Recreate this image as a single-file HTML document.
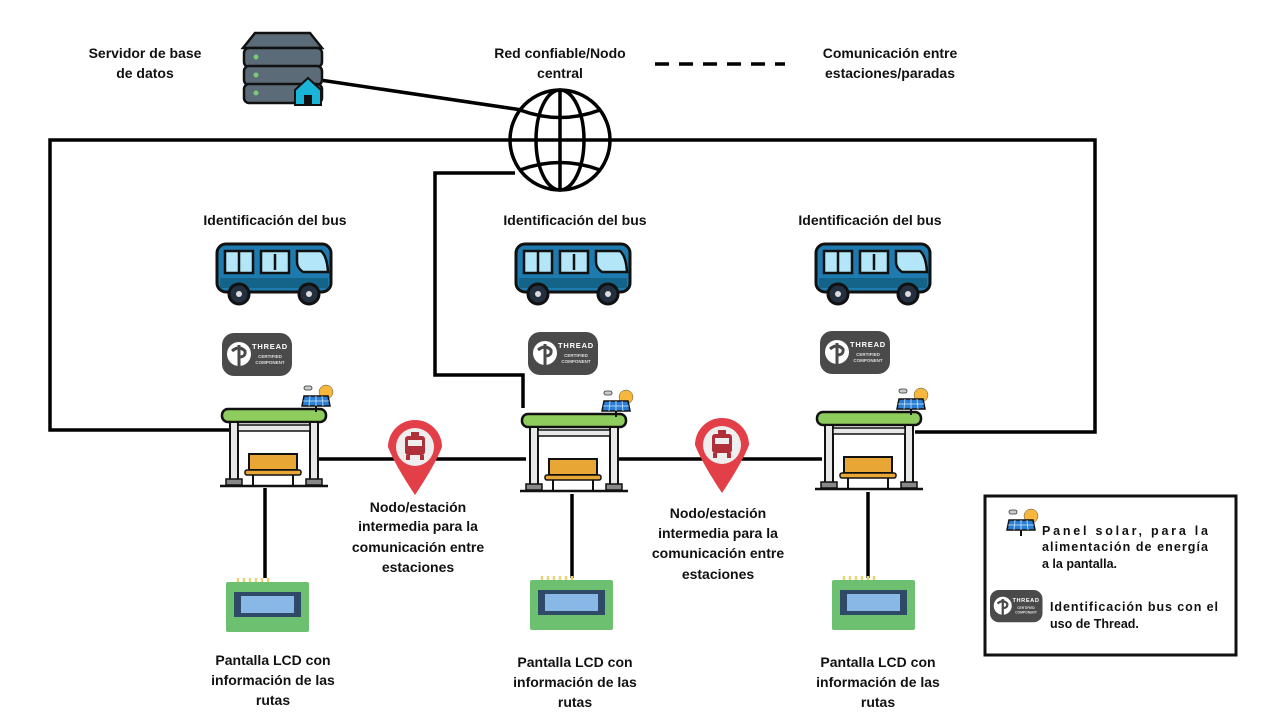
<!DOCTYPE html>
<html><head><meta charset="utf-8"><style>
body{margin:0;background:#fff;}
svg{display:block;font-family:"Liberation Sans",sans-serif;font-weight:bold;}
text{font-size:14px;fill:#111;}
</style></head><body>
<svg width="1267" height="723" viewBox="0 0 1267 723">
<defs>
<g id="bus">
  <rect x="0" y="0" width="114" height="48" rx="9" fill="#1d7bb0" stroke="#111" stroke-width="3"/>
  <rect x="3" y="34" width="108" height="10" fill="#146389"/>
  <rect x="8" y="7" width="28" height="22" fill="#b3e6f8" stroke="#111" stroke-width="2.5"/>
  <line x1="22" y1="7" x2="22" y2="29" stroke="#111" stroke-width="2.5"/>
  <rect x="44" y="7" width="28" height="22" fill="#b3e6f8" stroke="#111" stroke-width="2.5"/>
  <line x1="58" y1="10" x2="58" y2="26" stroke="#111" stroke-width="2.5"/>
  <path d="M80 7 H104 Q110 12 111 28 H86 Q80 24 80 18Z" fill="#b3e6f8" stroke="#111" stroke-width="2.5"/>
  <circle cx="22" cy="50" r="10" fill="#243040" stroke="#111" stroke-width="3"/><circle cx="22" cy="50" r="3" fill="#ddd"/>
  <circle cx="92" cy="50" r="10" fill="#243040" stroke="#111" stroke-width="3"/><circle cx="92" cy="50" r="3" fill="#ddd"/>
</g>
<g id="thread">
  <rect x="0" y="0" width="70" height="43" rx="12" fill="#4a4a4a"/>
  <circle cx="17" cy="21" r="12" fill="#fff"/>
  <path d="M17 12 V34 M10 18 Q17 12 23 18 Q24 24 17 24" stroke="#4a4a4a" stroke-width="3" fill="none"/>
  <text x="48" y="16" style="font-size:7.5px;fill:#fff;letter-spacing:0.8px" text-anchor="middle">THREAD</text>
  <text x="48" y="25" style="font-size:4.5px;fill:#ddd" text-anchor="middle">CERTIFIED</text>
  <text x="48" y="31" style="font-size:4.5px;fill:#ddd" text-anchor="middle">COMPONENT</text>
</g>
<g id="solar">
  <circle cx="26" cy="6" r="7" fill="#f6b73c" stroke="#555" stroke-width="0.5"/>
  <rect x="4" y="0" width="8" height="4" rx="2" fill="#ccc" stroke="#333" stroke-width="0.8"/>
  <path d="M4 10 H28 L30 20 H2Z" fill="#2a7fd4" stroke="#111" stroke-width="1.5"/>
  <path d="M10 10 L9 20 M16 10 V20 M22 10 L23 20 M3 15 H29" stroke="#cfe6ff" stroke-width="0.8"/>
  <line x1="16" y1="20" x2="16" y2="26" stroke="#111" stroke-width="2"/>
</g>
<g id="stop">
  <rect x="2" y="8" width="104" height="13" rx="6" fill="#8fcc5e" stroke="#111" stroke-width="2.5"/>
  <rect x="10" y="21" width="8" height="58" fill="#e8e8e8" stroke="#111" stroke-width="2"/>
  <rect x="90" y="21" width="8" height="58" fill="#e8e8e8" stroke="#111" stroke-width="2"/>
  <rect x="18" y="24" width="72" height="6" fill="#e8e8e8" stroke="#111" stroke-width="1.5"/>
  <rect x="29" y="53" width="48" height="16" fill="#e8a634" stroke="#111" stroke-width="2"/>
  <rect x="25" y="69" width="56" height="5" rx="2" fill="#e8a634" stroke="#111" stroke-width="1.5"/>
  <line x1="33" y1="74" x2="33" y2="84" stroke="#111" stroke-width="2"/><line x1="73" y1="74" x2="73" y2="84" stroke="#111" stroke-width="2"/>
  <rect x="6" y="78" width="16" height="6" fill="#888" stroke="#111" stroke-width="1.5"/>
  <rect x="86" y="78" width="16" height="6" fill="#888" stroke="#111" stroke-width="1.5"/>
  <line x1="0" y1="85" x2="108" y2="85" stroke="#111" stroke-width="2.5"/>
  <use href="#solar" x="80" y="-15"/>
</g>
<g id="pin">
  <path d="M-27 17 A27 27 0 1 1 27 17 Q20 35 0 65 Q-20 35 -27 17Z" transform="translate(0,-17)" fill="#e23f48"/>
  <circle cx="0" cy="0" r="19" fill="#eee"/>
  <rect x="-10" y="-11" width="20" height="19" rx="3" fill="#b0303a"/>
  <rect x="-7" y="-7" width="14" height="6" fill="#eee"/>
  <rect x="-4" y="-15" width="8" height="4" fill="#b0303a"/>
  <rect x="-9" y="8" width="4" height="5" fill="#b0303a"/><rect x="5" y="8" width="4" height="5" fill="#b0303a"/>
</g>
<g id="lcd">
  <rect x="0" y="4" width="83" height="50" rx="2" fill="#6cc070"/>
  <path d="M12 4 V0 M18 4 V0 M24 4 V0 M30 4 V0 M36 4 V0 M42 4 V0" stroke="#e6d37a" stroke-width="2.5"/>
  <rect x="8" y="14" width="67" height="25" fill="#2f4a66"/>
  <rect x="15" y="18" width="53" height="17" fill="#8ab8e6"/>
</g>
</defs>

<g stroke="#000" stroke-width="3.5" fill="none">
  <polyline points="230,430 50,430 50,140 1095,140 1095,432 915,432"/>
  <polyline points="515,173 435,173 435,375 523,375 523,408"/>
  <line x1="320" y1="80" x2="522" y2="110"/>
  <line x1="318" y1="459" x2="526" y2="459"/>
  <line x1="616" y1="459" x2="822" y2="459"/>
  <line x1="265" y1="488" x2="265" y2="578"/>
  <line x1="572" y1="494" x2="572" y2="578"/>
  <line x1="868" y1="492" x2="868" y2="578"/>
  <line x1="655" y1="64" x2="785" y2="64" stroke-dasharray="14,10"/>
</g>

<g stroke="#000" stroke-width="3.5" fill="#fff">
  <circle cx="560" cy="140" r="50"/>
  <ellipse cx="560" cy="140" rx="24" ry="50" fill="none"/>
  <line x1="560" y1="90" x2="560" y2="190"/>
  <line x1="510" y1="140" x2="610" y2="140"/>
  <path d="M520 110 Q560 125 600 110 M520 170 Q560 155 600 170" fill="none"/>
</g>

<g>
  <path d="M255 33 H310 L322 48 H243Z" fill="#5b6b78" stroke="#111" stroke-width="2.5"/>
  <rect x="244" y="48" width="78" height="19" rx="5" fill="#5b6b78" stroke="#111" stroke-width="2.5"/>
  <rect x="244" y="66" width="78" height="19" rx="5" fill="#5b6b78" stroke="#111" stroke-width="2.5"/>
  <rect x="244" y="84" width="78" height="19" rx="5" fill="#5b6b78" stroke="#111" stroke-width="2.5"/>
  <circle cx="256" cy="57" r="2.5" fill="#7c7"/><circle cx="256" cy="75" r="2.5" fill="#7c7"/><circle cx="256" cy="93" r="2.5" fill="#7c7"/>
  <path d="M295 90 L308 78 L321 90 V105 H295Z" fill="#19b4d6" stroke="#111" stroke-width="2"/>
  <rect x="304" y="95" width="8" height="10" fill="#111"/>
</g>

<use href="#bus" x="217" y="244"/><use href="#bus" x="516" y="244"/><use href="#bus" x="816" y="244"/>
<use href="#thread" x="222" y="333"/><use href="#thread" x="528" y="332"/><use href="#thread" x="820" y="331"/>
<use href="#stop" x="220" y="401"/><use href="#stop" x="520" y="406"/><use href="#stop" x="815" y="404"/>
<use href="#pin" x="415" y="447"/><use href="#pin" x="722" y="445"/>
<use href="#lcd" x="226" y="578"/><use href="#lcd" x="530" y="576"/><use href="#lcd" x="832" y="576"/>

<g text-anchor="middle">
<text x="145" y="58">Servidor de base</text><text x="145" y="78">de datos</text>
<text x="560" y="58">Red confiable/Nodo</text><text x="560" y="78">central</text>
<text x="890" y="58">Comunicación entre</text><text x="890" y="78">estaciones/paradas</text>
<text x="275" y="225">Identificación del bus</text>
<text x="575" y="225">Identificación del bus</text>
<text x="870" y="225">Identificación del bus</text>
<text x="418" y="512">Nodo/estación</text><text x="418" y="531">intermedia para la</text><text x="418" y="552">comunicación entre</text><text x="418" y="572">estaciones</text>
<text x="718" y="518">Nodo/estación</text><text x="718" y="538">intermedia para la</text><text x="718" y="558">comunicación entre</text><text x="718" y="579">estaciones</text>
<text x="273" y="665">Pantalla LCD con</text><text x="273" y="685">información de las</text><text x="273" y="705">rutas</text>
<text x="575" y="667">Pantalla LCD con</text><text x="575" y="687">información de las</text><text x="575" y="707">rutas</text>
<text x="878" y="667">Pantalla LCD con</text><text x="878" y="687">información de las</text><text x="878" y="707">rutas</text>
</g>

<rect x="985" y="496" width="251" height="159" fill="#fff" stroke="#111" stroke-width="3"/>
<use href="#solar" x="1005" y="510"/>
<text x="1042" y="535" style="font-size:12.5px" textLength="166" lengthAdjust="spacing">Panel solar, para la</text>
<text x="1042" y="551" style="font-size:12.5px" textLength="166" lengthAdjust="spacing">alimentación de energía</text>
<text x="1042" y="568" style="font-size:12.5px">a la pantalla.</text>
<text x="1050" y="611" style="font-size:12.5px" textLength="168" lengthAdjust="spacing">Identificación bus con el</text>
<text x="1050" y="628" style="font-size:12.5px">uso de Thread.</text>
<g transform="translate(990,590) scale(0.75)"><use href="#thread"/></g>
</svg>
</body></html>
